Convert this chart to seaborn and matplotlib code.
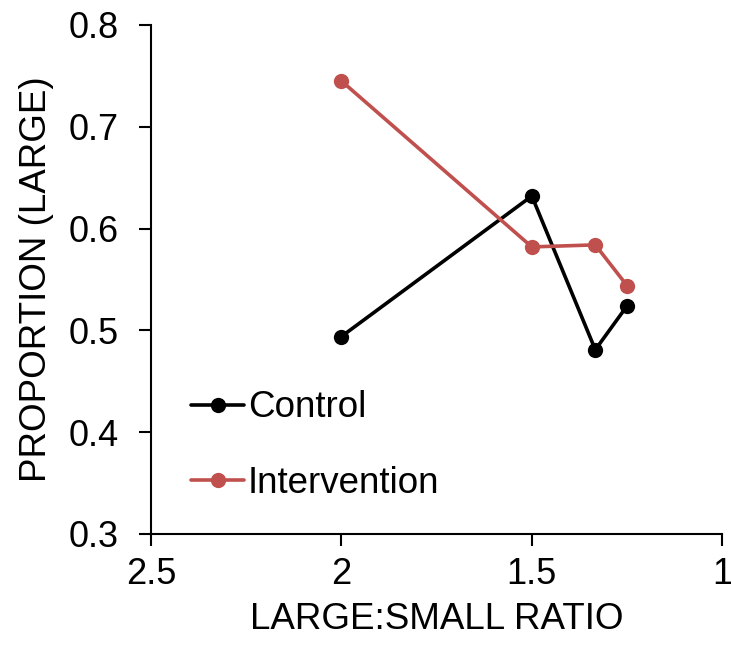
import pandas as pd
import matplotlib.pyplot as plt
import seaborn as sns

# Dados
ratios = [2.0, 1.5, 4 / 3, 1.25]
control = [0.494, 0.632, 0.481, 0.524]
intervention = [0.745, 0.582, 0.584, 0.544]
groups = ['Control', 'Intervention']
x_ticks = [2.5, 2.0, 1.5, 1.0]
x_labels = ['2.5', '2', '1.5', '1']
y_ticks = [0.3, 0.4, 0.5, 0.6, 0.7, 0.8]

df = pd.DataFrame({
    'ratio': ratios * 2,
    'prop': control + intervention,
    'group': [groups[0]] * 4 + [groups[1]] * 4,
})

sns.set_style('ticks')
plt.rcParams['font.family'] = ['Liberation Sans', 'DejaVu Sans']
plt.rcParams['text.color'] = 'black'
plt.rcParams['axes.labelcolor'] = 'black'
plt.rcParams['xtick.color'] = 'black'
plt.rcParams['ytick.color'] = 'black'

fig = plt.figure(figsize=(7.31, 6.49), dpi=100)
ax = fig.add_axes([0.2066, 0.1772, 0.7814, 0.7843])

sns.lineplot(data=df, x='ratio', y='prop', hue='group', sort=False,
             palette={'Control': 'black', 'Intervention': '#C0504D'},
             marker='o', markersize=11, markeredgewidth=0, linewidth=2.6,
             ax=ax)

ax.set_xlim(2.5, 1.0)
ax.set_ylim(0.3, 0.8)
ax.set_xticks(x_ticks)
ax.set_xticklabels(x_labels)
ax.set_yticks(y_ticks)
ax.set_yticklabels([f'{v:.1f}' for v in y_ticks])
ax.tick_params(axis='both', labelsize=26, direction='out', length=8.5,
               width=1.5)
ax.tick_params(axis='x', pad=8)
ax.tick_params(axis='y', pad=15)
for s in ['left', 'bottom']:
    ax.spines[s].set_linewidth(1.5)
    ax.spines[s].set_color('black')
sns.despine(ax=ax)

ax.set_xlabel('LARGE:SMALL RATIO', fontsize=26.5, labelpad=7)
ax.set_ylabel('PROPORTION (LARGE)', fontsize=26.5, labelpad=10)

ax.legend(title=None, frameon=False, fontsize=26.5, loc='lower left',
          bbox_to_anchor=(0.07, 0.065), handlelength=1.45, handletextpad=0.1,
          labelspacing=1.1, borderpad=0, borderaxespad=0)

plt.savefig('out.png', dpi=100)
